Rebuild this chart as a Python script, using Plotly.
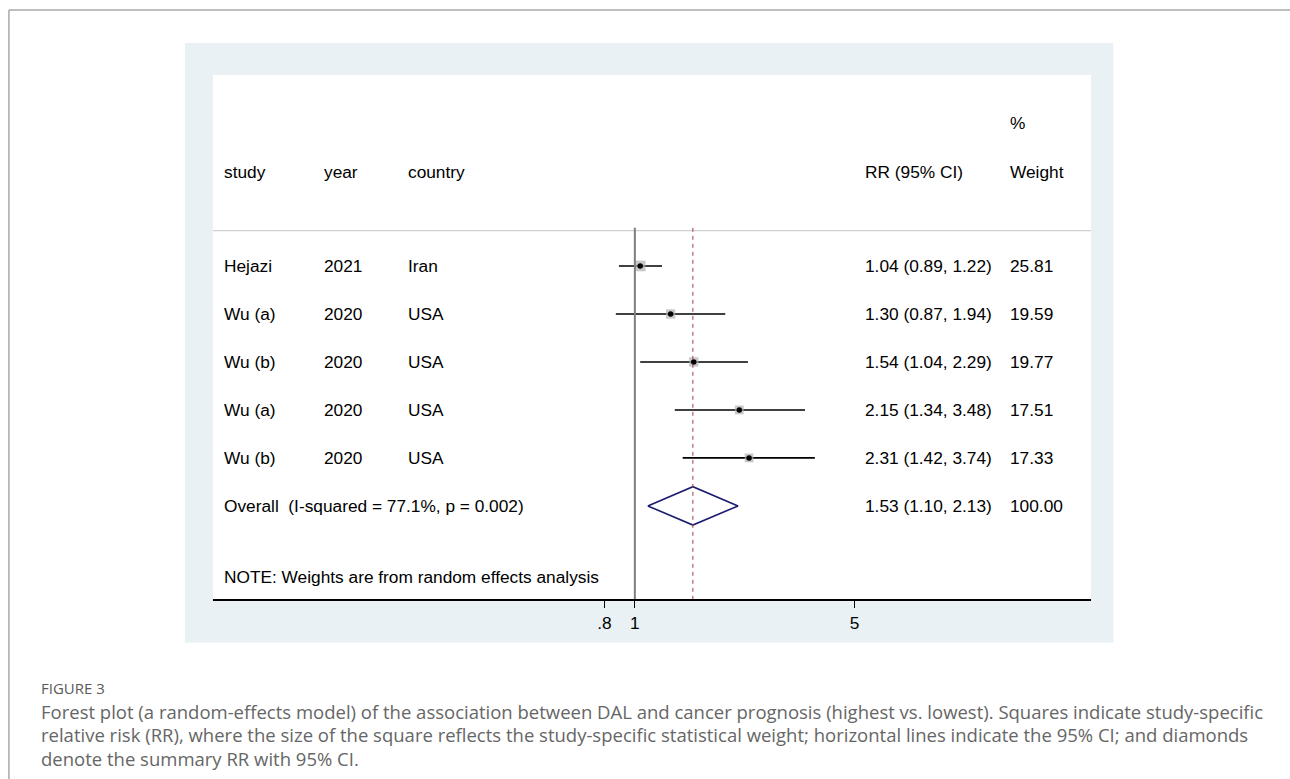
import math
import plotly.graph_objects as go

# ---------------- data ----------------
studies = ["Hejazi", "Wu (a)", "Wu (b)", "Wu (a)", "Wu (b)"]
years = ["2021", "2020", "2020", "2020", "2020"]
countries = ["Iran", "USA", "USA", "USA", "USA"]
rr = [1.04, 1.30, 1.54, 2.15, 2.31]
ci_low = [0.89, 0.87, 1.04, 1.34, 1.42]
ci_high = [1.22, 1.94, 2.29, 3.48, 3.74]
weights = [25.81, 19.59, 19.77, 17.51, 17.33]

pooled_rr = 1.53
pooled_low = 1.10
pooled_high = 2.13
pooled_weight = 100.00
overall_label = "Overall  (I-squared = 77.1%, p = 0.002)"
note_text = "NOTE: Weights are from random effects analysis"

null_value = 1
tick_vals = [0.8, 1, 5]
tick_text = [".8", "1", "5"]

col_headers = ["study", "year", "country", "RR (95% CI)", "Weight"]

caption_title = "FIGURE 3"
caption_lines = [
    "Forest plot (a random-effects model) of the association between DAL and cancer prognosis (highest vs. lowest). Squares indicate study-specific",
    "relative risk (RR), where the size of the square reflects the study-specific statistical weight; horizontal lines indicate the 95% CI; and diamonds",
    "denote the summary RR with 95% CI.",
]

# ---------------- layout geometry (pixels) ----------------
W, H = 1290, 779
PL, PR, PT, PB = 213, 1090.7, 75, 599.3   # plot area
PW, PH = PR - PL, PB - PT


def px_x(p):
    return (p - PL) / PW


def px_y(p):
    return (PB - p) / PH


FONT = "Liberation Sans, Arial, sans-serif"
FS = 17.3

rows = list(range(1, len(studies) + 1))
overall_row = len(studies) + 1
header_row = -0.96
pct_row = -1.98
note_row = 7.48
sep_row = 0.265
y_range = [7.94, -2.98]

# x log range from pixel extents (1 at 634.7px, 136.4 px per ln unit)
x0_ln = (PL - 634.7) / 136.4
x1_ln = (PR - 634.7) / 136.4
x_range = [x0_ln / math.log(10), x1_ln / math.log(10)]

fig = go.Figure()

# CI lines
cx, cy = [], []
for r, lo, hi in zip(rows, ci_low, ci_high):
    cx += [lo, hi, None]
    cy += [r, r, None]
fig.add_trace(go.Scatter(x=cx, y=cy, mode="lines",
                         line=dict(color="black", width=1.6),
                         hoverinfo="skip", showlegend=False))

# weight boxes
fig.add_trace(go.Scatter(x=rr, y=rows, mode="markers",
                         marker=dict(symbol="square", color="#b0b0b0",
                                     size=[2.1 * math.sqrt(w) for w in weights],
                                     line=dict(width=0)),
                         hoverinfo="skip", showlegend=False))
# point estimates
fig.add_trace(go.Scatter(x=rr, y=rows, mode="markers",
                         marker=dict(symbol="circle", color="black", size=5.5),
                         showlegend=False))

# diamond
dh = 0.4
fig.add_trace(go.Scatter(
    x=[pooled_low, pooled_rr, pooled_high, pooled_rr, pooled_low],
    y=[overall_row, overall_row - dh, overall_row, overall_row + dh, overall_row],
    mode="lines", line=dict(color="#1c1c70", width=1.6),
    hoverinfo="skip", showlegend=False))

shapes = [
    # outer frame lines
    dict(type="line", xref="paper", yref="paper",
         x0=px_x(9), x1=px_x(W + 5), y0=px_y(10), y1=px_y(10),
         line=dict(color="#a8a8a8", width=1.5), layer="below"),
    dict(type="line", xref="paper", yref="paper",
         x0=px_x(9), x1=px_x(9), y0=px_y(10), y1=px_y(H + 5),
         line=dict(color="#a8a8a8", width=1.5), layer="below"),
    # panel background
    dict(type="rect", xref="paper", yref="paper",
         x0=px_x(185), x1=px_x(1113), y0=px_y(643), y1=px_y(43),
         fillcolor="#e9f1f4", line=dict(width=0), layer="below"),
    # inner white region
    dict(type="rect", xref="paper", yref="paper",
         x0=0, x1=1, y0=0, y1=1,
         fillcolor="white", line=dict(width=0), layer="below"),
    # header separator
    dict(type="line", xref="paper", yref="y", x0=0, x1=1, y0=sep_row, y1=sep_row,
         line=dict(color="#c4c4c4", width=1), layer="below"),
    # null line
    dict(type="line", xref="x", yref="y", x0=null_value, x1=null_value,
         y0=sep_row - 0.06, y1=y_range[0],
         line=dict(color="#7f7f7f", width=2)),
    # pooled dashed line
    dict(type="line", xref="x", yref="y", x0=pooled_rr, x1=pooled_rr,
         y0=sep_row - 0.06, y1=y_range[0],
         line=dict(color="#a04040", width=1, dash="4px,4px")),
]

ann = []


def txt(xp, y, s, size=FS, color="black", font=FONT, yref="y", xanchor="left"):
    ann.append(dict(x=xp, y=y, xref="paper", yref=yref, text=s, showarrow=False,
                    xanchor=xanchor, yanchor="middle",
                    font=dict(family=font, size=size, color=color)))


col_px = [222, 322, 405.5, 863, 1008]
cols = [px_x(p) for p in col_px]

# headers
for c, h in zip(cols, col_headers):
    txt(c, header_row, h)
txt(cols[4], pct_row, "%")

# study rows
for r, s, yv, ct, e, lo, hi, w in zip(rows, studies, years, countries, rr, ci_low, ci_high, weights):
    txt(cols[0], r, s)
    txt(cols[1], r, yv)
    txt(cols[2], r, ct)
    txt(cols[3], r, f"{e:.2f} ({lo:.2f}, {hi:.2f})")
    txt(cols[4], r, f"{w:.2f}")

txt(cols[0], overall_row, overall_label)
txt(cols[3], overall_row, f"{pooled_rr:.2f} ({pooled_low:.2f}, {pooled_high:.2f})")
txt(cols[4], overall_row, f"{pooled_weight:.2f}")
txt(cols[0], note_row, note_text)

# caption
CAP_FONT = "Open Sans, Lato, sans-serif"
txt(px_x(39), px_y(688), caption_title, size=15, color="#5a5a5a", font=CAP_FONT, yref="paper")
for i, line in enumerate(caption_lines):
    txt(px_x(39), px_y(711.5 + 23.5 * i), line, size=18.5, color="#666666", font=CAP_FONT, yref="paper")

fig.update_layout(
    width=W, height=H,
    margin=dict(l=PL, r=W - PR, t=PT, b=H - PB, pad=0),
    paper_bgcolor="white", plot_bgcolor="white",
    shapes=shapes, annotations=ann,
    showlegend=False,
    xaxis=dict(type="log", range=x_range, tickvals=tick_vals, ticktext=tick_text,
               ticks="outside", ticklen=7, tickwidth=1, tickcolor="black",
               showline=True, linecolor="black", linewidth=1.5,
               showgrid=False, zeroline=False, mirror=False,
               tickfont=dict(family=FONT, size=FS, color="black")),
    yaxis=dict(range=y_range, visible=False, showgrid=False, zeroline=False),
)

fig.write_html("out.html", config={"displayModeBar": False},
               post_script="document.body.style.margin='0';")
